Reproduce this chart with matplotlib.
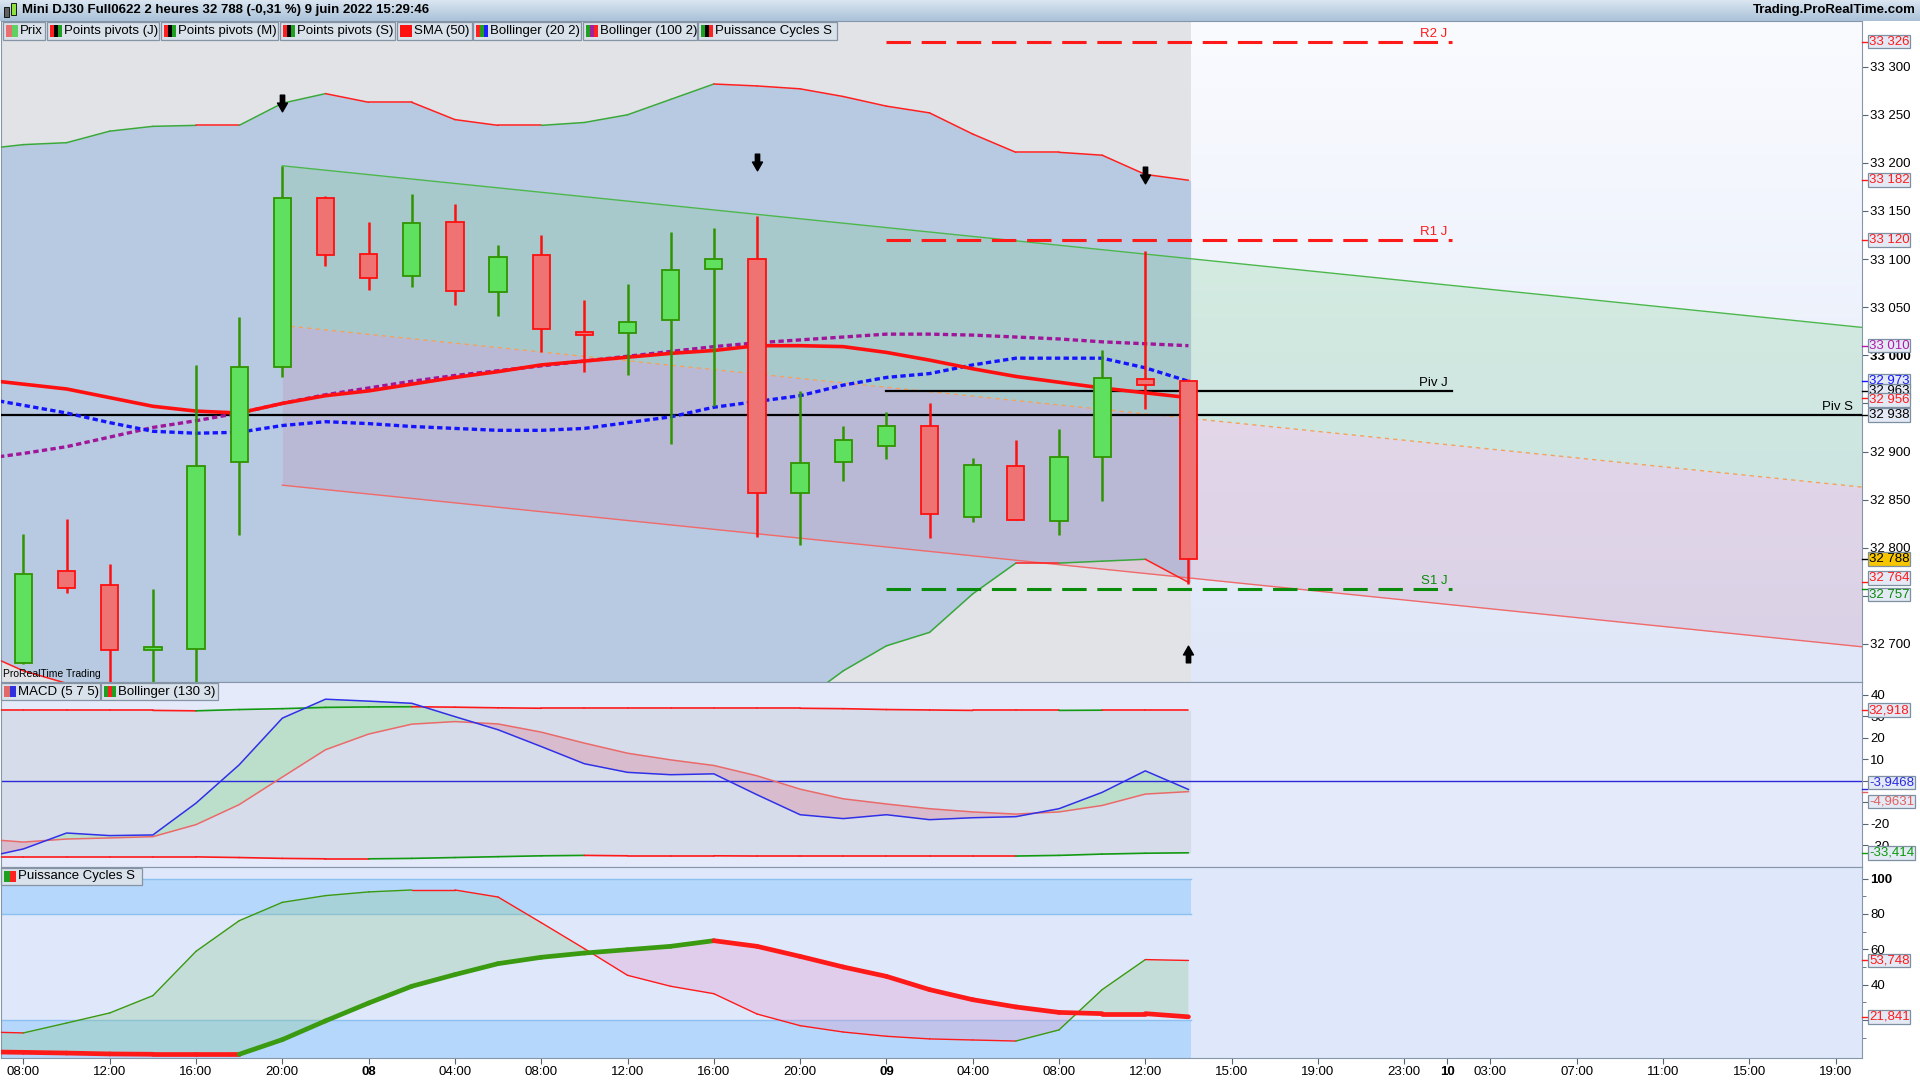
import numpy as np
import matplotlib.pyplot as plt
from matplotlib.path import Path
from matplotlib.patches import Rectangle
from matplotlib.colors import LinearSegmentedColormap
from matplotlib.collections import LineCollection
import matplotlib.transforms as mtrans

plt.rcParams['font.family'] = ['Liberation Sans', 'DejaVu Sans']
plt.rcParams['axes.unicode_minus'] = False

# ---------------- données (bougies 2 heures, 7 juin 08:00 -> 9 juin 14:00)
opens = [32680, 32776, 32761, 32695, 32695, 32889, 32988, 33164, 33105, 33082, 33139, 33066, 33104, 33025,
         33023, 33037, 33090, 33100, 32857, 32889, 32906, 32927, 32832, 32885, 32828, 32894, 32975, 32973]
highs = [32814, 32830, 32783, 32757, 32990, 33040, 33197, 33166, 33139, 33168, 33157, 33115, 33125, 33057,
         33074, 33128, 33132, 33145, 32963, 32926, 32941, 32950, 32893, 32912, 32923, 33006, 33108, 32975]
lows = [32679, 32753, 32640, 32640, 32640, 32813, 32977, 33093, 33068, 33071, 33052, 33041, 33003, 32983,
        32980, 32908, 32947, 32811, 32803, 32869, 32892, 32810, 32827, 32829, 32813, 32849, 32944, 32762]
closes = [32773, 32758, 32694, 32696, 32885, 32988, 33164, 33104, 33080, 33138, 33067, 33102, 33027, 33023,
          33035, 33089, 33100, 32857, 32888, 32912, 32927, 32835, 32886, 32829, 32894, 32976, 32969, 32788]

# séries d'indicateurs (premier point = bougie précédente, hors écran)
bb_up = [33214, 33219, 33221, 33233, 33238, 33239, 33239, 33262, 33272, 33263, 33263, 33245, 33239, 33239, 33242,
         33250, 33266, 33282, 33280, 33277, 33269, 33259, 33252, 33230, 33211, 33211, 33208, 33188, 33182]
bb_low = [32692, 32672, 32659, 32627, 32604, 32599, 32601, 32592, 32590, 32595, 32589, 32603, 32605, 32605, 32606,
          32610, 32606, 32610, 32624, 32639, 32672, 32698, 32712, 32752, 32784, 32784, 32786, 32788, 32764]
sma50 = [32975, 32970, 32965, 32956, 32947, 32942, 32940, 32950, 32958, 32963, 32970, 32977, 32983, 32990, 32994,
         32998, 33002, 33005, 33010, 33010, 33009, 33003, 32995, 32986, 32978, 32972, 32966, 32961, 32956]
sma20 = [32956, 32948, 32940, 32930, 32921, 32919, 32920, 32927, 32931, 32929, 32926, 32924, 32922, 32922, 32924,
         32930, 32936, 32946, 32952, 32958, 32969, 32977, 32981, 32990, 32997, 32997, 32997, 32987, 32973]
sma100 = [32892, 32898, 32905, 32915, 32925, 32932, 32940, 32950, 32959, 32966, 32973, 32979, 32984, 32989, 32994,
          32999, 33004, 33009, 33013, 33016, 33019, 33022, 33022, 33021, 33019, 33017, 33014, 33012, 33010]

macd = [-36.0, -31.6, -24.2, -25.4, -25.1, -10.3, 7.5, 29.2, 38.0, 37.1, 36.1, 29.9, 23.8, 16.0, 8.0,
        4.0, 2.9, 3.3, -6.4, -15.7, -17.5, -15.7, -18.0, -17.1, -16.6, -12.9, -5.3, 4.7, -3.95]
signal = [-26.9, -28.4, -27.0, -26.5, -25.9, -20.3, -11.0, 1.8, 14.5, 21.8, 26.4, 27.6, 26.5, 22.7, 17.6,
          12.9, 9.8, 7.2, 2.4, -3.8, -8.3, -10.7, -12.9, -14.4, -15.4, -14.4, -11.4, -6.1, -4.96]
macd_bb_up = [32.8, 32.8, 32.8, 32.8, 32.8, 32.6, 33.2, 33.6, 34.2, 34.4, 34.5, 34.3, 34.0, 33.8, 33.8,
              33.8, 33.8, 33.8, 33.8, 33.8, 33.6, 33.2, 33.0, 32.8, 32.8, 32.8, 32.9, 32.9, 32.9]
macd_bb_low = [-35.3, -35.3, -35.3, -35.3, -35.3, -35.3, -35.6, -36.0, -36.2, -36.2, -36.0, -35.6, -35.2, -34.8, -34.6,
               -34.8, -34.8, -34.8, -34.9, -34.9, -34.9, -34.9, -34.9, -34.9, -34.9, -34.6, -34.0, -33.6, -33.4]

cycle_fast = [13.3, 12.7, 18.3, 24.0, 33.8, 58.9, 76.2, 86.6, 90.4, 92.5, 93.6, 93.6, 89.6, 75.1, 60.4,
              45.3, 39.1, 34.9, 23.4, 16.8, 13.2, 10.8, 9.3, 8.7, 8.1, 14.4, 37.2, 54.2, 53.7]
cycle_slow = [2.0, 1.7, 1.3, 0.8, 0.6, 0.6, 0.6, 8.9, 19.5, 29.6, 39.1, 45.7, 51.9, 55.5, 57.9,
              59.8, 61.7, 64.9, 61.7, 56.0, 50.0, 44.7, 37.2, 31.5, 27.4, 24.3, 23.6, 23.6, 21.8]

# canal de régression, pivots, flèches fractales
chan_start, chan_end = 6, 42.61
chan_mid = [33031, 32863]
chan_half = 166
piv_days = {'R2 J': 33326, 'R1 J': 33120, 'Piv J': 32963, 'S1 J': 32757}
piv_s = 32938
arrows_dn_x, arrows_dn_y = [6, 17, 26], [33262, 33201, 33187]
arrows_up_x, arrows_up_y = [27], [32689]

tick_pos = [0, 2, 4, 6, 8, 10, 12, 14, 16, 18, 20, 22, 24, 26, 28, 30, 32, 33, 34, 36, 38, 40, 42]
tick_lab = ['08:00', '12:00', '16:00', '20:00', '08', '04:00', '08:00', '12:00', '16:00', '20:00', '09',
            '04:00', '08:00', '12:00', '15:00', '19:00', '23:00', '10', '03:00', '07:00', '11:00', '15:00', '19:00']

# ---------------- figure
fig = plt.figure(figsize=(19.2, 10.8), dpi=100)
fig.patch.set_facecolor('white')


def axes_px(x0, y0, x1, y1):
    return fig.add_axes([x0 / 1920, 1 - y1 / 1080, (x1 - x0) / 1920, (y1 - y0) / 1080])


XL = (-0.52, 42.61)
HIST_END = 27.05
xc = np.arange(len(opens))
xl = np.arange(-1, len(opens))
SPINE = '#8596a8'


def two_tone(ax, xs, ys, lw, up_c='#19a019', dn_c='#ff1a1a', z=3):
    segs = [[(xs[k], ys[k]), (xs[k + 1], ys[k + 1])] for k in range(len(xs) - 1)]
    cols = [up_c if ys[k + 1] > ys[k] else dn_c for k in range(len(xs) - 1)]
    ax.add_collection(LineCollection(segs, colors=cols, linewidths=lw, zorder=z, capstyle='round'))


def vbox(ax, val, txt, tc, fc='#e4eaf5', dy=0, bold=False):
    tr = mtrans.blended_transform_factory(ax.transAxes, ax.transData)
    ax.plot([1.0, 1.0025], [val, val], color=tc, lw=1, transform=tr, clip_on=False, zorder=9)
    ax.annotate(txt, (1.0, val), xycoords=tr, xytext=(5, dy), textcoords='offset points',
                ha='left', va='center', fontsize=9.5, color=tc, annotation_clip=False, zorder=10,
                fontweight='bold' if bold else 'normal',
                bbox=dict(boxstyle='square,pad=0.06', fc=fc, ec='#7d90a2', lw=0.9))


def style_axes(ax, ylim):
    ax.set_xlim(*XL)
    ax.set_ylim(*ylim)
    ax.yaxis.tick_right()
    ax.tick_params(axis='y', labelsize=9.5, length=4, color='#556677', pad=2)
    ax.tick_params(axis='x', bottom=False, labelbottom=False)
    for s in ax.spines.values():
        s.set_color(SPINE)


def future_gradient(ax, c_top, c_bot, ylim):
    cmap = LinearSegmentedColormap.from_list('g', [c_top, c_bot])
    ax.imshow(np.linspace(0, 1, 256).reshape(-1, 1), cmap=cmap, aspect='auto',
              extent=[HIST_END, XL[1], ylim[0], ylim[1]], zorder=0, origin='upper')


# ---------------- panneau prix
Y1 = (32660.4, 33347.5)
ax1 = axes_px(1, 21, 1862, 682)
future_gradient(ax1, '#fafbff', '#dfe7f8', Y1)
ax1.axvspan(XL[0], HIST_END, color='#e2e3e7', zorder=0.2, lw=0)
xb = np.append(xl, HIST_END)
ax1.fill_between(xb, np.append(bb_low, bb_low[-1]), np.append(bb_up, bb_up[-1]),
                 color='#b8cae2', lw=0, zorder=0.5)

cx = np.array([chan_start, chan_end])
cm = np.array(chan_mid, float)
ax1.fill_between(cx, cm, cm + chan_half, color=(0.39, 0.78, 0.47), alpha=0.2, lw=0, zorder=1)
ax1.fill_between(cx, cm - chan_half, cm, color=(0.78, 0.47, 0.63), alpha=0.2, lw=0, zorder=1)
ax1.plot(cx, cm + chan_half, color='#4cb84c', lw=1, zorder=2)
ax1.plot(cx, cm - chan_half, color='#f06a6a', lw=1, zorder=2)
ax1.plot(cx, cm, color='#f5a060', lw=1, ls=(0, (3, 3)), zorder=2)

two_tone(ax1, xl, bb_up, 1.1, up_c='#3aa83a', dn_c='#ff2020')
two_tone(ax1, xl, bb_low, 1.1, up_c='#3aa83a', dn_c='#ff2020')

ax1.plot(xl, sma100, color='#a0169a', lw=2.4, ls=(0, (1.6, 1.0)), zorder=4)
ax1.plot(xl, sma20, color='#1414ff', lw=2.4, ls=(0, (1.6, 1.0)), zorder=4)
ax1.plot(xl, sma50, color='#ff1010', lw=2.6, zorder=4.5)

piv_x = [20, 33.1]
piv_col = {'R2 J': '#ff1a1a', 'R1 J': '#ff1a1a', 'Piv J': 'black', 'S1 J': '#0a8a0a'}
for name, v in piv_days.items():
    ls = '-' if name == 'Piv J' else (0, (8, 3.5))
    lw = 1.6 if name == 'Piv J' else 2.2
    ax1.plot(piv_x, [v, v], color=piv_col[name], lw=lw, ls=ls, zorder=3)
    ax1.text(33.0, v + 2, name, ha='right', va='bottom', fontsize=9.5, color=piv_col[name], zorder=5)
ax1.axhline(piv_s, color='black', lw=1.6, zorder=3)
ax1.text(42.4, piv_s + 2, 'Piv S', ha='right', va='bottom', fontsize=9.5, zorder=5)

for i in xc:
    up = closes[i] >= opens[i]
    ec = '#2f9400' if up else '#ff1010'
    fc = '#5fe05f' if up else '#ef7373'
    ax1.vlines(i, lows[i], highs[i], color=ec, lw=1.8, zorder=6)
    lo, hi = min(opens[i], closes[i]), max(opens[i], closes[i])
    ax1.add_patch(Rectangle((i - 0.2, lo - (1.5 if hi - lo < 3 else 0)), 0.4, max(hi - lo, 3),
                            facecolor=fc, edgecolor=ec, lw=1.3, zorder=7))

arr_dn = Path([(-0.26, 1), (0.26, 1), (0.26, 0.05), (0.6, 0.05), (0, -1), (-0.6, 0.05), (-0.26, 0.05), (-0.26, 1)],
              [Path.MOVETO] + [Path.LINETO] * 6 + [Path.CLOSEPOLY])
arr_up = Path([(x, -y) for x, y in arr_dn.vertices], arr_dn.codes)
ax1.plot(arrows_dn_x, arrows_dn_y, ls='none', marker=arr_dn, ms=12, color='black', zorder=8)
ax1.plot(arrows_up_x, arrows_up_y, ls='none', marker=arr_up, ms=12, color='black', zorder=8)

style_axes(ax1, Y1)
yt = list(range(32700, 33301, 50))
ax1.set_yticks(yt, [f"{v:,}".replace(',', ' ') for v in yt])
for t, v in zip(ax1.get_yticklabels(), yt):
    if v == 33000:
        t.set_fontweight('bold')
ax1.text(0.001, 0.004, 'ProRealTime Trading', transform=ax1.transAxes, fontsize=7.5, va='bottom', zorder=9)

vbox(ax1, 33326, '33 326', '#ff1a1a')
vbox(ax1, 33182, '33 182', '#ff1a1a')
vbox(ax1, 33120, '33 120', '#ff1a1a')
vbox(ax1, 33010, '33 010', '#b01aa8')
vbox(ax1, 32973, '32 973', '#1414ff')
vbox(ax1, 32963, '32 963', 'black')
vbox(ax1, 32956, '32 956', '#ff1a1a', dy=-1.5)
vbox(ax1, 32938, '32 938', 'black')
vbox(ax1, 32788, '32 788', 'black', fc='#f7c600')
vbox(ax1, 32764, '32 764', '#ff1a1a', dy=3)
vbox(ax1, 32757, '32 757', '#0a8a0a', dy=-4)

# ---------------- panneau MACD
Y2 = (-40.0, 46.0)
ax2 = axes_px(1, 682, 1862, 867)
ax2.set_facecolor('#e5eafb')
ax2.fill_between(xb, np.append(macd_bb_low, macd_bb_low[-1]), np.append(macd_bb_up, macd_bb_up[-1]),
                 color='#d7dcea', lw=0, zorder=0.5)
m, s = np.array(macd), np.array(signal)
ax2.fill_between(xl, m, s, where=m >= s, interpolate=True, color='#bcdfcb', lw=0, zorder=1)
ax2.fill_between(xl, m, s, where=m < s, interpolate=True, color='#d8bccd', lw=0, zorder=1)
ax2.axhline(0, color='#2a2ad8', lw=1, zorder=2)
two_tone(ax2, xl, macd_bb_up, 1.2, up_c='#139a13', dn_c='#ff1a1a')
two_tone(ax2, xl, macd_bb_low, 1.2, up_c='#139a13', dn_c='#ff1a1a')
ax2.plot(xl, signal, color='#ea6a6a', lw=1.1, zorder=3)
ax2.plot(xl, macd, color='#3030e8', lw=1.1, zorder=3.5)
style_axes(ax2, Y2)
ax2.set_yticks(range(-30, 41, 10))
vbox(ax2, 32.918, '32,918', '#ff1a1a')
vbox(ax2, -3.9468, '-3,9468', '#2a2ae0', dy=5)
vbox(ax2, -4.9631, '-4,9631', '#e06060', dy=-7)
vbox(ax2, -33.414, '-33,414', '#0a9a0a')

# ---------------- panneau Puissance Cycles S
Y3 = (-1.5, 106.6)
ax3 = axes_px(1, 867, 1862, 1058)
ax3.set_facecolor('#dfe7fb')
ax3.add_patch(Rectangle((XL[0], 80), HIST_END - XL[0], 20, color='#b5d7fb', lw=0, zorder=0.5))
ax3.add_patch(Rectangle((XL[0], Y3[0]), HIST_END - XL[0], 20 - Y3[0], color='#b5d7fb', lw=0, zorder=0.5))
for lv in (100, 80, 20):
    ax3.plot([XL[0], HIST_END], [lv, lv], color='#8cc0f0', lw=1, zorder=0.6)
f, sl = np.array(cycle_fast), np.array(cycle_slow)
ax3.fill_between(xl, f, sl, where=f >= sl, interpolate=True, color=(0.55, 0.78, 0.55), alpha=0.3, lw=0, zorder=1)
ax3.fill_between(xl, f, sl, where=f < sl, interpolate=True, color=(0.88, 0.6, 0.8), alpha=0.32, lw=0, zorder=1)
two_tone(ax3, xl, cycle_fast, 1.0, up_c='#3a9a10', dn_c='#ff1a1a')
two_tone(ax3, xl, cycle_slow, 3.4, up_c='#3a9a10', dn_c='#ff1a1a', z=3.5)
style_axes(ax3, Y3)
ax3.set_yticks([20, 40, 60, 80, 100], ['20', '40', '60', '80', '100'])
ax3.set_yticks([10, 30, 50, 70, 90], minor=True)
ax3.tick_params(axis='y', which='minor', length=3, color='#556677')
ax3.get_yticklabels()[-1].set_fontweight('bold')
vbox(ax3, 53.748, '53,748', '#ff1a1a')
vbox(ax3, 21.841, '21,841', '#ff1a1a')

ax3.tick_params(axis='x', bottom=True, labelbottom=True, labelsize=9.5, length=4, color='#556677', pad=2)
ax3.set_xticks(tick_pos, tick_lab)
for t, lab in zip(ax3.get_xticklabels(), tick_lab):
    if len(lab) == 2:
        t.set_fontweight('bold')

# ---------------- barre de titre
axt = axes_px(0, 0, 1920, 21)
cm_t = LinearSegmentedColormap.from_list('t', ['#dbe6f1', '#a9c1d8'])
axt.imshow(np.linspace(0, 1, 64).reshape(-1, 1), cmap=cm_t, aspect='auto', extent=[0, 1, 0, 1], origin='upper')
axt.set_xlim(0, 1)
axt.set_ylim(0, 1)
axt.axis('off')
axt.add_patch(Rectangle((4 / 1920, 0.2), 5 / 1920, 0.45, fc='#606060', ec='black', lw=0.6))
axt.add_patch(Rectangle((11 / 1920, 0.3), 5 / 1920, 0.55, fc='#90e040', ec='black', lw=0.6))
axt.text(22 / 1920, 0.5, 'Mini DJ30 Full0622 2 heures 32 788 (-0,31 %) 9 juin 2022 15:29:46',
         va='center', ha='left', fontsize=9.5, fontweight='bold')
axt.text(1916 / 1920, 0.5, 'Trading.ProRealTime.com', va='center', ha='right', fontsize=9.5, fontweight='bold')


# ---------------- boîtes de légende
def legend_box(x0, x1, y0, y1, colors, text):
    fig.add_artist(Rectangle((x0 / 1920, 1 - y1 / 1080), (x1 - x0) / 1920, (y1 - y0) / 1080,
                             transform=fig.transFigure, fc='#d9e1ea', ec='#8494a4', lw=0.9, zorder=20))
    sw = 12 / len(colors)
    for k, c in enumerate(colors):
        fig.add_artist(Rectangle(((x0 + 3 + k * sw) / 1920, 1 - (y1 - 3) / 1080), sw / 1920, (y1 - y0 - 6) / 1080,
                                 transform=fig.transFigure, fc=c, ec='none', zorder=21))
    fig.text((x0 + 17) / 1920, 1 - (y0 + y1) / 2 / 1080, text, va='center', ha='left', fontsize=9.5, zorder=22)


leg_main = [(3, 45, ['#e87070', '#60d060'], 'Prix'),
            (47, 159, ['#ff2020', '#000000', '#20a020'], 'Points pivots (J)'),
            (161, 278, ['#ff2020', '#000000', '#20a020'], 'Points pivots (M)'),
            (280, 395, ['#ff2020', '#000000', '#20a020'], 'Points pivots (S)'),
            (397, 472, ['#ff1010'], 'SMA (50)'),
            (473, 581, ['#ff2020', '#20a020', '#2020ff'], 'Bollinger (20 2)'),
            (583, 697, ['#20a020', '#a020a0', '#ff2020'], 'Bollinger (100 2)'),
            (698, 837, ['#20a020', '#000000', '#ff2020'], 'Puissance Cycles S')]
for x0, x1, cols, txt in leg_main:
    legend_box(x0, x1, 22, 40, cols, txt)
legend_box(1, 100, 683, 700, ['#e06a6a', '#3030e0'], 'MACD (5 7 5)')
legend_box(101, 218, 683, 700, ['#20a020', '#ff2020', '#20a020'], 'Bollinger (130 3)')
legend_box(1, 142, 868, 885, ['#20a020', '#ff2020'], 'Puissance Cycles S')

fig.savefig('out.png', dpi=100)
